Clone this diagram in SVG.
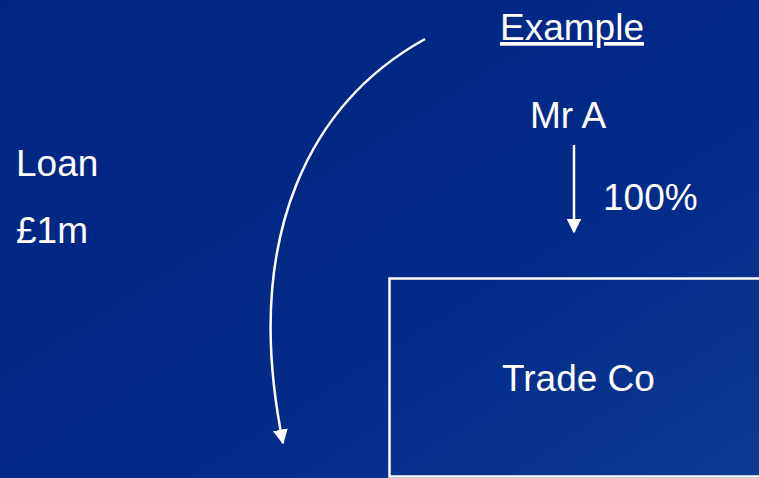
<svg xmlns="http://www.w3.org/2000/svg" width="759" height="478" viewBox="0 0 759 478">
  <defs>
    <linearGradient id="bg" x1="0" y1="0" x2="1" y2="1">
      <stop offset="0" stop-color="#012582"/>
      <stop offset="0.6" stop-color="#022a88"/>
      <stop offset="1" stop-color="#0b3a94"/>
    </linearGradient>
    <marker id="head" viewBox="0 0 10 10" refX="9" refY="5" markerWidth="6" markerHeight="6" orient="auto" markerUnits="strokeWidth">
      <path d="M0,0 L10,5 L0,10 z" fill="#fff"/>
    </marker>
    <style>
      .t { font-family: "Liberation Sans", Arial, sans-serif; font-size: 37px; fill: #fff; }
      .line { fill: none; stroke: #fff; stroke-width: 2.5; }
    </style>
  </defs>
  <rect width="759" height="478" fill="url(#bg)"/>

  <g id="title">
    <text class="t" x="500" y="40" text-decoration="underline">Example</text>
  </g>
  <g id="mr-a">
    <text class="t" x="530" y="128">Mr A</text>
  </g>
  <g id="share">
    <text class="t" x="603" y="210">100%</text>
  </g>
  <g id="loan">
    <text class="t" x="16" y="176">Loan</text>
    <text class="t" x="16" y="243">£1m</text>
  </g>
  <g id="trade-co">
    <rect x="389.5" y="278.5" width="372" height="198" fill="none" stroke="#fff" stroke-width="2.5"/>
    <text class="t" x="502" y="391">Trade Co</text>
  </g>

  <g id="connectors">
    <path class="line" d="M425,39 C315,100 240,230 283,443" marker-end="url(#head)"/>
    <line class="line" x1="574" y1="145" x2="574" y2="232" marker-end="url(#head)"/>
  </g>
</svg>
